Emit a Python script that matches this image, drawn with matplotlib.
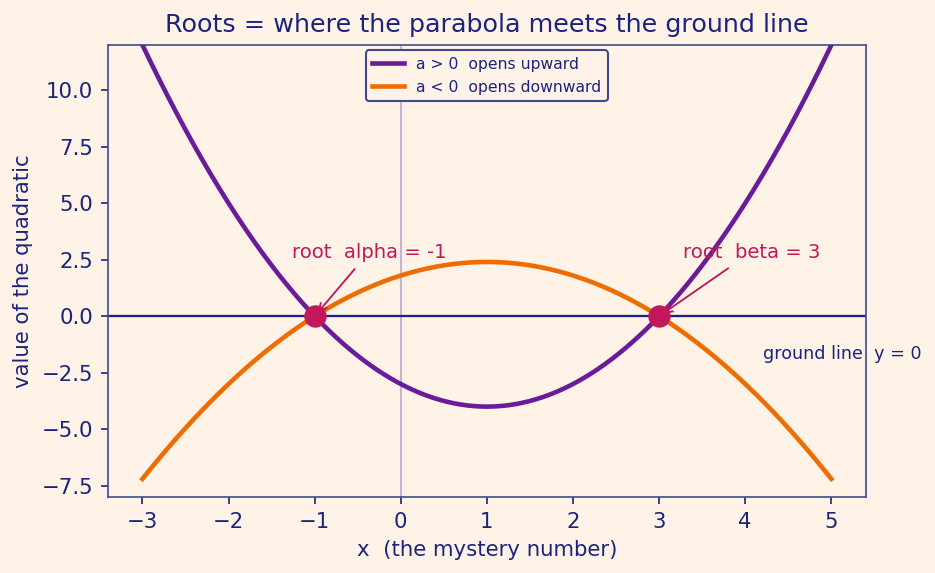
import matplotlib

matplotlib.use("Agg")
import matplotlib.pyplot as plt
import numpy as np

# quadratic coefficients: y = a*(x - alpha)*(x - beta)
alpha, beta = -1, 3
a_up = 1.0
a_down = -0.6
x_start, x_end = -3, 5

BG = "#FFF3E8"
INK = "#1A237E"
PURPLE = "#6A1B9A"
ORANGE = "#EF6C00"
ROOT_C = "#C2185B"

x = np.linspace(x_start, x_end, 400)
y_up = a_up * (x - alpha) * (x - beta)
y_down = a_down * (x - alpha) * (x - beta)

fig, ax = plt.subplots(figsize=(9.35 / 1.5, 5.73 / 1.5), dpi=150)
fig.patch.set_facecolor(BG)
ax.set_facecolor(BG)
fig.subplots_adjust(left=0.1155, right=0.926, top=0.9215, bottom=0.1326)

ax.axvline(0, color="#9E8CC0", lw=1, alpha=0.6, zorder=1)
ax.axhline(0, color=INK, lw=1.1, zorder=2)

ax.plot(x, y_up, color=PURPLE, lw=2.2, label="a > 0  opens upward", zorder=3)
ax.plot(x, y_down, color=ORANGE, lw=2.2, label="a < 0  opens downward", zorder=3)

ax.scatter([alpha, beta], [0, 0], s=95, color=ROOT_C, zorder=5)

ax.annotate(f"root  alpha = {alpha}", xy=(alpha, 0), xytext=(-0.37, 2.83),
            ha="center", va="center", color=ROOT_C, fontsize=9.4,
            arrowprops=dict(arrowstyle="->", color=ROOT_C, lw=0.9))
ax.annotate(f"root  beta = {beta}", xy=(beta, 0), xytext=(4.07, 2.83),
            ha="center", va="center", color=ROOT_C, fontsize=9.4,
            arrowprops=dict(arrowstyle="->", color=ROOT_C, lw=0.9))

ax.text(4.21, -1.68, "ground line  y = 0", color=INK, fontsize=8.4,
        ha="left", va="center", clip_on=False)

ax.set_xlim(-3.4, 5.4)
ax.set_ylim(-8, 12)
ax.set_xticks(np.arange(-3, 6, 1))
ax.set_yticks([-7.5, -5.0, -2.5, 0.0, 2.5, 5.0, 7.5, 10.0])

ax.set_title("Roots = where the parabola meets the ground line", color=INK, fontsize=12.2)
ax.set_xlabel("x  (the mystery number)", color=INK, fontsize=10.2)
ax.set_ylabel("value of the quadratic", color=INK, fontsize=10.2)
ax.tick_params(colors=INK, labelsize=10.2)
for sp in ax.spines.values():
    sp.set_color("#3F4A8C")

leg = ax.legend(loc="upper center", fontsize=7.5, facecolor=BG, edgecolor="#3F4A8C",
                framealpha=1, borderaxespad=0.35)
for t in leg.get_texts():
    t.set_color(INK)

fig.savefig("out.png", dpi=150, facecolor=BG)
